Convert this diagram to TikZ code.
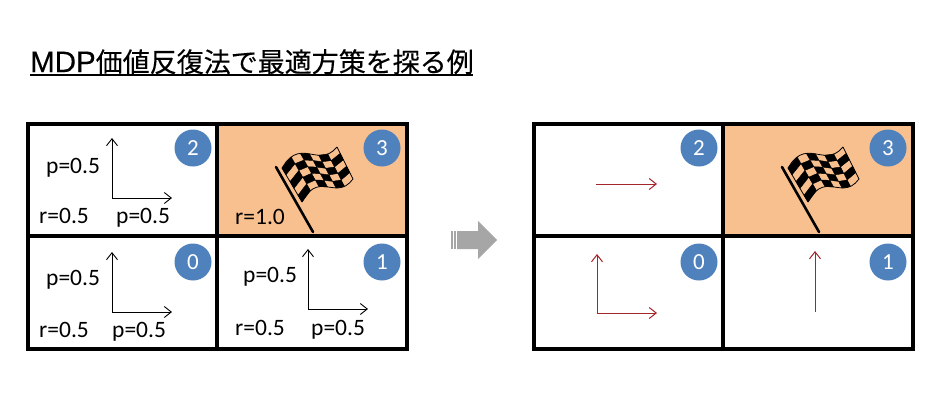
\documentclass[tikz,border=0pt]{standalone}
\usepackage{fontspec}
\setmainfont{Carlito}
\newfontfamily\cjkfont[FakeBold=0.25]{Noto Sans CJK JP}
\newfontfamily\latfont[FakeBold=0.25]{Liberation Sans}
\usetikzlibrary{arrows.meta}
\definecolor{badge}{HTML}{4F81BD}
\definecolor{goal}{HTML}{F9C08F}
\definecolor{pol}{HTML}{A5252A}
\definecolor{grayarrow}{HTML}{A6A6A6}
\newcommand{\fx}[2]{{282+55*(#1)+20*(#2)-4*(#1)*(#2)}}
\newcommand{\fy}[2]{{168-21*(#1)+34*(#2)-2*(#1)*(#2)-120*(#1)*(1-(#1))*(0.62-(#1))}}
\newcommand{\flagat}[2]{%
  \begin{scope}[shift={(#1,#2)}]
    \draw[line width=2.6pt,line cap=round] (276,167) -- (313,232);
    \foreach \i in {0,...,5}{\foreach \j in {0,...,4}{
      \pgfmathtruncatemacro{\cellodd}{mod(\i+\j,2)}
      \ifnum\cellodd=0
        \filldraw[line width=.4pt,line join=round] (\fx{\i/6}{\j/5},\fy{\i/6}{\j/5}) -- (\fx{(\i+1)/6}{\j/5},\fy{(\i+1)/6}{\j/5}) -- (\fx{(\i+1)/6}{(\j+1)/5},\fy{(\i+1)/6}{(\j+1)/5}) -- (\fx{\i/6}{(\j+1)/5},\fy{\i/6}{(\j+1)/5}) -- cycle;
      \fi
    }}
    \draw[line width=.8pt] plot[domain=0:1,samples=15] ({\fx{\x}{1}},{\fy{\x}{1}});
    \draw[line width=.8pt] plot[domain=0:1,samples=15] ({\fx{\x}{0}},{\fy{\x}{0}});
    \draw[line width=.8pt] ({\fx{0}{0}},{\fy{0}{0}}) -- ({\fx{0}{1}},{\fy{0}{1}});
    \draw[line width=.8pt] ({\fx{1}{0}},{\fy{1}{0}}) -- ({\fx{1}{1}},{\fy{1}{1}});
  \end{scope}}
\tikzset{
  cellline/.style={line width=3.6pt,line cap=rect},
  badgenode/.style={circle,fill=badge,text=white,minimum size=37pt,inner sep=0pt,font=\fontsize{23}{23}\selectfont},
  lab/.style={font=\fontsize{23.5}{23.5}\selectfont,inner sep=0pt,anchor=base west},
  blackarrow/.style={line width=.9pt,-{Straight Barb[length=7pt,width=11pt]}},
  redarrow/.style={draw=pol,line width=1pt,-{Straight Barb[length=7pt,width=11pt]}}
}
\begin{document}
\begin{tikzpicture}[x=1pt,y=-1pt]
\useasboundingbox (0,0) rectangle (945,413);
\fill[white] (0,0) rectangle (945,413);
\node[inner sep=0pt,anchor=base west,font=\fontsize{27}{27}\selectfont\cjkfont] (title) at (30,72) {{\latfont\fontsize{29.5}{29.5}\selectfont MDP}価値反復法で最適方策を探る例};
\draw[line width=1.2pt] (30,75) -- (473,75);
% left
\fill[goal] (217,124) rectangle (407,236);
\draw[cellline] (28,124) rectangle (407,349);
\draw[cellline] (217,124) -- (217,349);
\draw[cellline] (28,236) -- (407,236);
\flagat{0}{0}
% right
\fill[goal] (723,124) rectangle (913,236);
\draw[cellline] (534,124) rectangle (913,349);
\draw[cellline] (723,124) -- (723,349);
\draw[cellline] (534,236) -- (913,236);
\flagat{506}{0}
% badges
\node[badgenode] (a2) at (193,148) {2};
\node[badgenode] (a3) at (382,148) {3};
\node[badgenode] (a0) at (193,262) {0};
\node[badgenode] (a1) at (382,262) {1};
\node[badgenode] (b2) at (699,148) {2};
\node[badgenode] (b3) at (888,148) {3};
\node[badgenode] (b0) at (699,262) {0};
\node[badgenode] (b1) at (888,262) {1};
% labels
\node[lab] (l1) at (46,173) {p=0.5};
\node[lab] (l2) at (39,223) {r=0.5};
\node[lab] (l3) at (116,223) {p=0.5};
\node[lab] (l4) at (235,224) {r=1.0};
\node[lab] (l5) at (46,285) {p=0.5};
\node[lab] (l6) at (39,337) {r=0.5};
\node[lab] (l7) at (112,337) {p=0.5};
\node[lab] (l8) at (243,282) {p=0.5};
\node[lab] (l9) at (235,335) {r=0.5};
\node[lab] (l10) at (311,335) {p=0.5};
% black arrows
\coordinate (c2) at (112,198); \coordinate (c2u) at (112,138); \coordinate (c2r) at (172,198);
\coordinate (c0) at (112,312); \coordinate (c0u) at (112,252); \coordinate (c0r) at (172,312);
\coordinate (c1) at (308,309); \coordinate (c1u) at (308,249); \coordinate (c1r) at (368,309);
\draw[blackarrow] (c2) -- (c2u); \draw[blackarrow] (c2) -- (c2r);
\draw[blackarrow] (c0) -- (c0u); \draw[blackarrow] (c0) -- (c0r);
\draw[blackarrow] (c1) -- (c1u); \draw[blackarrow] (c1) -- (c1r);
% red arrows
\coordinate (r2) at (596,184); \coordinate (r2r) at (657,184);
\coordinate (r0) at (597,313); \coordinate (r0u) at (597,254); \coordinate (r0r) at (657,313);
\coordinate (r1) at (815,312); \coordinate (r1u) at (815,251);
\draw[redarrow] (r2) -- (r2r);
\draw[redarrow] (r0) -- (r0u); \draw[redarrow] (r0) -- (r0r);
\draw[redarrow] (r1) -- (r1u);
% gray block arrow
\fill[grayarrow] (457,231) -- (478,231) -- (478,221) -- (497,240) -- (478,259) -- (478,249) -- (457,249) -- cycle;
\fill[grayarrow] (451,231) rectangle (452.5,249);
\fill[grayarrow] (454,231) rectangle (455.5,249);
\end{tikzpicture}
\end{document}
